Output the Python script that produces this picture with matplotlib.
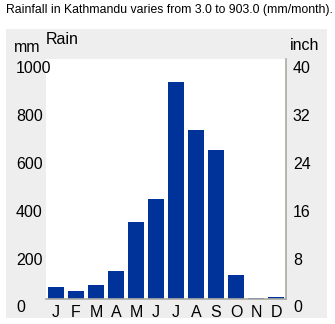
import matplotlib
matplotlib.use("Agg")
import matplotlib.pyplot as plt
import matplotlib.transforms as mtransforms
from matplotlib.patches import Rectangle

plt.rcParams['font.family'] = ['Liberation Sans', 'DejaVu Sans']

# === data ===
months = ["J", "F", "M", "A", "M", "J", "J", "A", "S", "O", "N", "D"]
rain_mm = [48, 31, 56, 115, 319, 415, 903, 703, 620, 98, 3, 6]
mm_ticks = [0, 200, 400, 600, 800, 1000]
inch_ticks = [0, 8, 16, 24, 32, 40]

W, H = 335, 324
fig = plt.figure(figsize=(W / 100, H / 100), dpi=100)

# grey panel behind the chart
fig.patches.append(Rectangle((6 / W, 1 - 318 / H), 321 / W, 289 / H,
                             transform=fig.transFigure, facecolor="#eeeeee",
                             edgecolor="none", zorder=-5))

ax = fig.add_axes([46 / W, 1 - 298.5 / H, 240 / W, 239.8 / H])
ax.set_facecolor("white")
x = list(range(len(months)))
ax.bar(x, rain_mm, width=0.8, color="#003399", zorder=2)
ax.set_xlim(-0.5, 11.5)
ax.set_ylim(0, 1000)

ax.set_xticks(x)
ax.set_xticklabels(months, fontsize=11.5)
ax.set_yticks(mm_ticks)
ax.set_yticklabels([str(t) for t in mm_ticks], fontsize=11.5)
ax.tick_params(axis="x", length=0, pad=5)
ax.tick_params(axis="y", length=0, pad=0)

# y labels: left-aligned at x=16px, shifted a bit down like the original
shift = mtransforms.ScaledTranslation(-0.30, -0.08, fig.dpi_scale_trans)
for lab in ax.get_yticklabels():
    lab.set_horizontalalignment("left")
    lab.set_transform(lab.get_transform() + shift)

for s in ["left", "top", "right"]:
    ax.spines[s].set_visible(False)
ax.spines["bottom"].set_color("#aaaaa4")
ax.spines["bottom"].set_linewidth(1.2)

ax2 = ax.twinx()
ax2.set_ylim(0, 40)
ax2.set_yticks(inch_ticks)
ax2.set_yticklabels([str(t) for t in inch_ticks], fontsize=11.5)
ax2.tick_params(axis="y", length=0, pad=5)
shift2 = mtransforms.ScaledTranslation(0.0, -0.08, fig.dpi_scale_trans)
for lab in ax2.get_yticklabels():
    lab.set_transform(lab.get_transform() + shift2)
for s in ["left", "top", "bottom"]:
    ax2.spines[s].set_visible(False)
ax2.spines["right"].set_color("#aaaaa4")
ax2.spines["right"].set_linewidth(1.2)

fig.text(6 / W, 1 - 10 / H, "Rainfall in Kathmandu varies from 3.0 to 903.0 (mm/month).",
         fontsize=8.85, va="center", ha="left")
fig.text(14 / W, 1 - 47 / H, "mm", fontsize=11.5, va="center", ha="left")
fig.text(46 / W, 1 - 39 / H, "Rain", fontsize=11.5, va="center", ha="left")
fig.text(290 / W, 1 - 46 / H, "inch", fontsize=11.5, va="center", ha="left")

fig.savefig("out.png", dpi=100)
